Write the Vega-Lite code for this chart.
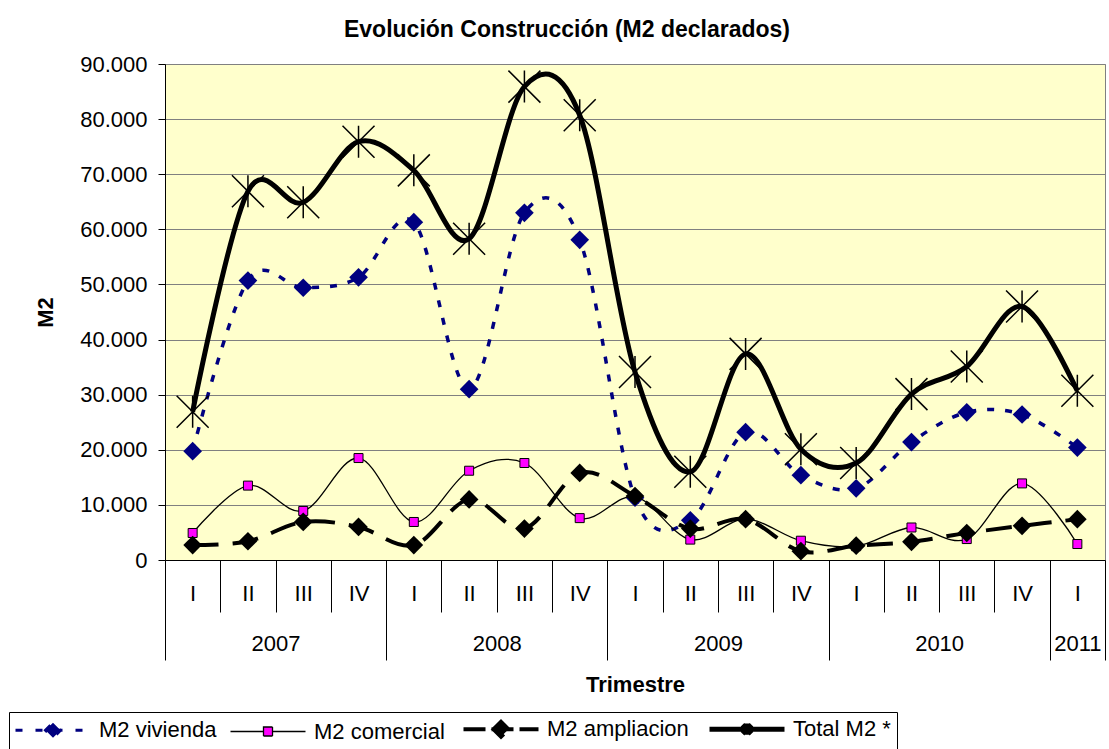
{
  "$schema": "https://vega.github.io/schema/vega-lite/v6.json",
  "width": 940,
  "height": 496,
  "autosize": {"type": "none"},
  "padding": {"left": 165, "top": 64, "right": 4, "bottom": 189},
  "background": "white",
  "title": {"text": "Evolución Construcción (M2 declarados)", "fontSize": 23, "fontWeight": "bold", "font": "Liberation Sans", "anchor": "middle", "frame": "group", "dx": -68, "offset": 11, "color": "#000000"},
  "data": {"values": [
    {"n": 1, "year": 2007, "q": "I", "viv": 19750, "com": 4900, "amp": 2700, "tot": 26900},
    {"n": 2, "year": 2007, "q": "II", "viv": 50700, "com": 13500, "amp": 3400, "tot": 66900},
    {"n": 3, "year": 2007, "q": "III", "viv": 49400, "com": 8900, "amp": 6900, "tot": 64900},
    {"n": 4, "year": 2007, "q": "IV", "viv": 51300, "com": 18500, "amp": 6000, "tot": 75900},
    {"n": 5, "year": 2008, "q": "I", "viv": 61300, "com": 6900, "amp": 2700, "tot": 70700},
    {"n": 6, "year": 2008, "q": "II", "viv": 31000, "com": 16200, "amp": 11000, "tot": 58300},
    {"n": 7, "year": 2008, "q": "III", "viv": 63000, "com": 17600, "amp": 5700, "tot": 85900},
    {"n": 8, "year": 2008, "q": "IV", "viv": 58100, "com": 7600, "amp": 15800, "tot": 80700},
    {"n": 9, "year": 2009, "q": "I", "viv": 11300, "com": 11500, "amp": 11600, "tot": 34100},
    {"n": 10, "year": 2009, "q": "II", "viv": 7200, "com": 3700, "amp": 5700, "tot": 16000},
    {"n": 11, "year": 2009, "q": "III", "viv": 23200, "com": 7400, "amp": 7400, "tot": 37400},
    {"n": 12, "year": 2009, "q": "IV", "viv": 15400, "com": 3500, "amp": 1600, "tot": 20100},
    {"n": 13, "year": 2010, "q": "I", "viv": 13000, "com": 2500, "amp": 2600, "tot": 17600},
    {"n": 14, "year": 2010, "q": "II", "viv": 21400, "com": 5900, "amp": 3300, "tot": 30100},
    {"n": 15, "year": 2010, "q": "III", "viv": 26800, "com": 3800, "amp": 4900, "tot": 35100},
    {"n": 16, "year": 2010, "q": "IV", "viv": 26400, "com": 13900, "amp": 6200, "tot": 46000},
    {"n": 17, "year": 2011, "q": "I", "viv": 20400, "com": 2900, "amp": 7400, "tot": 30700}
  ]},
  "resolve": {"axis": {"x": "independent", "y": "independent"}},
  "layer": [
    {
      "mark": {"type": "line", "interpolate": "cardinal", "strokeWidth": 3.5, "strokeDash": [7, 11]},
      "encoding": {
        "x": {"field": "n", "type": "quantitative", "scale": {"domain": [0.5, 17.5], "nice": false, "zero": false},
          "axis": {"orient": "bottom", "values": [1,2,3,4,5,6,7,8,9,10,11,12,13,14,15,16,17], "labelExpr": "['I','II','III','IV'][(datum.value-1)%4]", "ticks": false, "tickSize": 0, "labelPadding": 23, "grid": false, "domain": true, "domainColor": "#000000", "labelFontSize": 22, "labelColor": "#000000", "labelFlush": false, "labelOverlap": false, "title": null}},
        "y": {"field": "viv", "type": "quantitative", "scale": {"domain": [0, 90000], "nice": false, "zero": false},
          "axis": {"orient": "left", "values": [0,10000,20000,30000,40000,50000,60000,70000,80000,90000], "labelExpr": "datum.value == 0 ? '0' : format(datum.value/1000, 'd') + '.000'", "grid": true, "gridColor": "#808080", "gridWidth": 1, "gridOpacity": 1, "tickSize": 7, "tickColor": "#000000", "domainColor": "#000000", "labelPadding": 11, "labelFontSize": 22, "labelColor": "#000000", "labelFlush": false, "labelOverlap": false, "title": "M2", "titleFontSize": 22, "titleFontWeight": "bold", "titleColor": "#000000", "titlePadding": 22}},
        "color": {"datum": "M2 vivienda", "type": "nominal",
          "scale": {"domain": ["M2 vivienda", "M2 comercial", "M2 ampliacion", "Total M2 *"], "range": ["#000080", "#000000", "#000000", "#000000"]},
          "legend": {
            "orient": "none", "legendX": -156, "legendY": 648, "direction": "horizontal", "columns": 4, "title": null,
            "strokeColor": "#000000", "fillColor": "#ffffff", "padding": 6, "labelFontSize": 22, "labelColor": "#000000", "symbolOffset": 27, "labelOffset": 35, "columnPadding": 10, "symbolSize": 5625, "labelLimit": 300,
            "encode": {"symbols": {"update": {
              "shape": {"signal": "datum.value === 'M2 vivienda' ? 'M-1,0L1,0M-0.2,0L0,-0.2L0.2,0L0,0.2Z' : datum.value === 'M2 comercial' ? 'M-1,0L-0.12,0M0.12,0L1,0M-0.12,-0.12L0.12,-0.12L0.12,0.12L-0.12,0.12Z' : datum.value === 'M2 ampliacion' ? 'M-1,0L1,0M-0.2,0L0,-0.2L0.2,0L0,0.2Z' : 'M-1,0L1,0M-0.12,-0.12L0.12,0.12M-0.12,0.12L0.12,-0.12M0,-0.15L0,0.15'"},
              "fill": {"signal": "datum.value === 'M2 vivienda' ? '#000080' : datum.value === 'M2 comercial' ? '#FF00FF' : datum.value === 'M2 ampliacion' ? '#000000' : 'transparent'"},
              "stroke": {"signal": "datum.value === 'M2 vivienda' ? '#000080' : '#000000'"},
              "strokeWidth": {"signal": "datum.value === 'M2 vivienda' ? 3 : datum.value === 'M2 comercial' ? 1.3 : datum.value === 'M2 ampliacion' ? 4 : 5"},
              "strokeDash": {"signal": "datum.value === 'M2 vivienda' ? [7,13] : datum.value === 'M2 ampliacion' ? [22,6] : [1,0]"},
              "size": {"value": 5625},
              "opacity": {"value": 1},
              "fillOpacity": {"value": 1},
              "strokeOpacity": {"value": 1}
            }}}
          }}
      }
    },
    {
      "mark": {"type": "point", "shape": "diamond", "filled": true, "fill": "#000080", "stroke": null, "size": 350, "opacity": 1},
      "encoding": {
        "x": {"field": "n", "type": "quantitative", "scale": {"domain": [0.5, 17.5], "nice": false, "zero": false},
          "axis": {"orient": "bottom", "values": [1.5,2.5,3.5,4.5,5.5,6.5,7.5,8.5,9.5,10.5,11.5,12.5,13.5,14.5,15.5,16.5], "labels": false, "ticks": true, "tickSize": 52, "tickColor": "#000000", "tickWidth": 1, "domain": false, "grid": false, "title": null}},
        "y": {"field": "viv", "type": "quantitative", "scale": {"domain": [0, 90000], "nice": false, "zero": false}, "axis": null}
      }
    },
    {
      "mark": {"type": "line", "interpolate": "cardinal", "strokeWidth": 1.3},
      "encoding": {
        "x": {"field": "n", "type": "quantitative", "scale": {"domain": [0.5, 17.5], "nice": false, "zero": false},
          "axis": {"orient": "bottom", "values": [0.5, 4.5, 8.5, 12.5, 16.5, 17.5], "labels": false, "ticks": true, "tickSize": 100, "tickColor": "#000000", "tickWidth": 1, "domain": false, "grid": false, "title": null}},
        "y": {"field": "com", "type": "quantitative", "scale": {"domain": [0, 90000], "nice": false, "zero": false}, "axis": null},
        "color": {"datum": "M2 comercial", "type": "nominal"}
      }
    },
    {
      "mark": {"type": "point", "shape": "square", "filled": true, "fill": "#FF00FF", "stroke": "#000000", "strokeWidth": 1, "size": 81, "opacity": 1},
      "encoding": {
        "x": {"field": "n", "type": "quantitative", "scale": {"domain": [0.5, 17.5], "nice": false, "zero": false},
          "axis": {"orient": "bottom", "values": [2.5, 6.5, 10.5, 14.5, 17], "labelExpr": "datum.value == 17 ? '2011' : '' + (2007 + floor(datum.value/4))", "ticks": false, "tickSize": 0, "labelPadding": 73, "domain": false, "grid": false, "labelFontSize": 22, "labelColor": "#000000", "labelFlush": false, "labelOverlap": false, "title": "Trimestre", "titleFontSize": 22, "titleFontWeight": "bold", "titleColor": "#000000", "titlePadding": 20}},
        "y": {"field": "com", "type": "quantitative", "scale": {"domain": [0, 90000], "nice": false, "zero": false}, "axis": null}
      }
    },
    {
      "mark": {"type": "line", "interpolate": "cardinal", "strokeWidth": 4, "strokeDash": [26, 14]},
      "encoding": {
        "x": {"field": "n", "type": "quantitative", "scale": {"domain": [0.5, 17.5], "nice": false, "zero": false}, "axis": null},
        "y": {"field": "amp", "type": "quantitative", "scale": {"domain": [0, 90000], "nice": false, "zero": false}, "axis": null},
        "color": {"datum": "M2 ampliacion", "type": "nominal"}
      }
    },
    {
      "mark": {"type": "point", "shape": "diamond", "filled": true, "fill": "#000000", "stroke": null, "size": 350, "opacity": 1},
      "encoding": {
        "x": {"field": "n", "type": "quantitative", "scale": {"domain": [0.5, 17.5], "nice": false, "zero": false}, "axis": null},
        "y": {"field": "amp", "type": "quantitative", "scale": {"domain": [0, 90000], "nice": false, "zero": false}, "axis": null}
      }
    },
    {
      "mark": {"type": "line", "interpolate": "cardinal", "strokeWidth": 5},
      "encoding": {
        "x": {"field": "n", "type": "quantitative", "scale": {"domain": [0.5, 17.5], "nice": false, "zero": false}, "axis": null},
        "y": {"field": "tot", "type": "quantitative", "scale": {"domain": [0, 90000], "nice": false, "zero": false}, "axis": null},
        "color": {"datum": "Total M2 *", "type": "nominal"}
      }
    },
    {
      "mark": {"type": "point", "shape": "M-1,-1L1,1M-1,1L1,-1M0,-1L0,1", "filled": false, "stroke": "#000000", "strokeWidth": 1.5, "size": 1024, "opacity": 1},
      "encoding": {
        "x": {"field": "n", "type": "quantitative", "scale": {"domain": [0.5, 17.5], "nice": false, "zero": false}, "axis": null},
        "y": {"field": "tot", "type": "quantitative", "scale": {"domain": [0, 90000], "nice": false, "zero": false}, "axis": null}
      }
    }
  ],
  "config": {
    "font": "Liberation Sans",
    "view": {"stroke": "#808080", "fill": "#FFFFCC"},
    "axis": {"labelFont": "Liberation Sans", "titleFont": "Liberation Sans"},
    "legend": {"labelFont": "Liberation Sans"}
  }
}
